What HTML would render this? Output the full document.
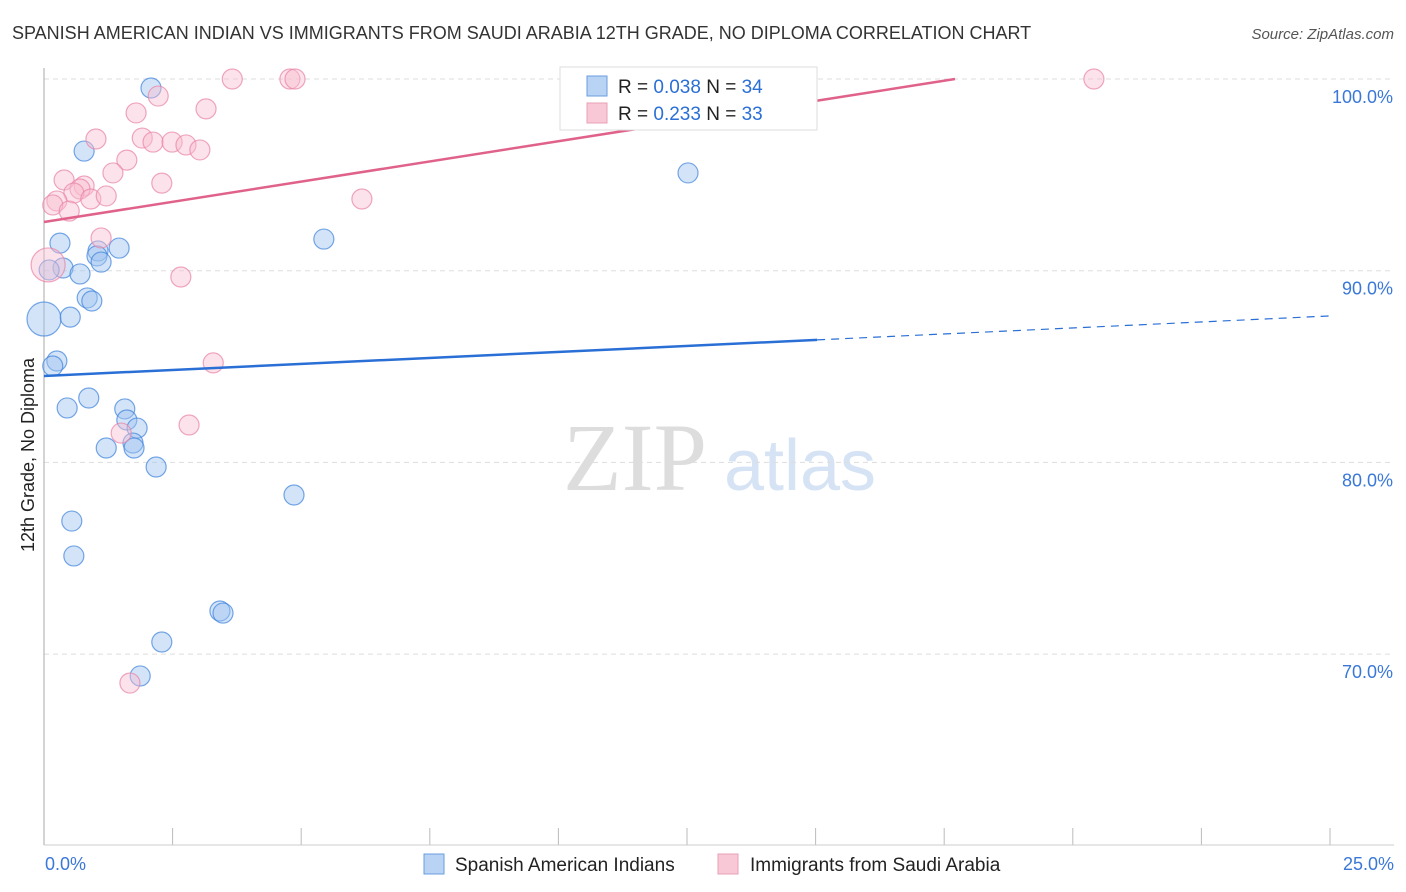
<!DOCTYPE html>
<html><head><meta charset="utf-8"><style>
body{margin:0;background:#fff;font-family:"Liberation Sans",sans-serif;}
svg{display:block}
</style></head><body>
<svg id="chart" width="1406" height="892">
<text x="12" y="39" font-size="18" fill="#333">SPANISH AMERICAN INDIAN VS IMMIGRANTS FROM SAUDI ARABIA 12TH GRADE, NO DIPLOMA CORRELATION CHART</text>
<text x="1394" y="39" font-size="15" fill="#555" text-anchor="end" font-style="italic">Source: ZipAtlas.com</text>
<text x="34" y="455" font-size="18" fill="#222" text-anchor="middle" transform="rotate(-90 34 455)">12th Grade, No Diploma</text>
<g>
<text x="635" y="490" font-size="96" fill="#ddd" font-family="Liberation Serif,serif" text-anchor="middle">ZIP</text>
<text x="800" y="490" font-size="72" fill="#d5e3f5" text-anchor="middle">atlas</text>
</g>
<g id="grid"></g><g id="ticks"></g>
<line x1="44" y1="68" x2="44" y2="845" stroke="#aaa"/>
<line x1="44" y1="845" x2="1394" y2="845" stroke="#ccc"/>
<g id="pts"></g><g id="trends"></g>
<g>
<rect x="560" y="67" width="257" height="63" fill="#fff" stroke="#ddd"/>
<rect x="587" y="76" width="20" height="20" fill="#b9d3f5" stroke="#6a9ee0"/>
<rect x="587" y="103" width="20" height="20" fill="#f9c8d6" stroke="#e8a0b6"/>
<text x="618" y="93" font-size="19" fill="#222">R = <tspan fill="#2a6fd6">0.038</tspan>    N = <tspan fill="#2a6fd6">34</tspan></text>
<text x="618" y="120" font-size="19" fill="#222">R =  <tspan fill="#2a6fd6">0.233</tspan>    N = <tspan fill="#2a6fd6">33</tspan></text>
</g>
<g>
<rect x="424" y="854" width="20" height="20" fill="#b9d3f5" stroke="#6a9ee0"/>
<text x="455" y="871" font-size="19" fill="#222">Spanish American Indians</text>
<rect x="718" y="854" width="20" height="20" fill="#f9c8d6" stroke="#e8a0b6"/>
<text x="750" y="871" font-size="19" fill="#222">Immigrants from Saudi Arabia</text>
</g>
<text x="45" y="870" font-size="18" fill="#3a78d8">0.0%</text>
<text x="1394" y="870" font-size="18" fill="#3a78d8" text-anchor="end">25.0%</text>
</svg>
<script>
const yTicks=[100,90,80,70];
const yTickLabels=["100.0%","90.0%","80.0%","70.0%"];
const xTicks=[0,2.5,5,7.5,10,12.5,15,17.5,20,22.5,25];
const blueX=[2.08,0.78,12.52,5.44,0.31,1.46,1.05,1.03,1.11,0.37,0.70,0.10,0.84,0.93,0.0,0.51,0.25,0.17,0.87,0.45,1.57,1.61,1.81,1.21,1.73,1.75,2.18,4.86,0.54,0.58,3.42,3.48,2.29,1.87];
const blueY=[99.53,96.24,95.10,91.65,91.44,91.18,91.03,90.77,90.45,90.14,89.83,90.04,88.58,88.42,87.48,87.58,85.29,85.03,83.36,82.84,82.79,82.21,81.79,80.75,81.01,80.75,79.76,78.30,76.94,75.12,72.25,72.14,70.63,68.86];
const blueR=[10,10,10,10,10,10,10,10,10,10,10,10,10,10,17,10,10,10,10,10,10,10,10,10,10,10,10,10,10,10,10,10,10,10];
const pinkX=[3.66,4.78,4.88,20.41,2.22,1.79,3.15,1.01,1.91,2.12,2.49,2.76,3.03,1.61,1.34,0.39,2.29,0.78,0.70,0.58,0.91,1.21,6.18,0.25,0.17,0.49,1.11,2.66,0.08,3.29,1.50,2.82,1.67];
const pinkY=[100,100,100,100,99.11,98.23,98.44,96.87,96.92,96.71,96.71,96.56,96.30,95.77,95.10,94.73,94.57,94.42,94.26,94.05,93.74,93.90,93.74,93.64,93.43,93.11,91.71,89.67,90.30,85.19,81.53,81.95,68.49];
const pinkR=[10,10,10,10,10,10,10,10,10,10,10,10,10,10,10,10,10,10,10,10,10,10,10,10,10,10,10,10,17,10,10,10,10];
const blueTrend=[84.51,87.64]; // value at x=0 and x=25
const blueSolidEnd=15.03;
const pinkTrend=[92.54,100]; // value at x=0 and at x=pinkEnd
const pinkEnd=17.71;
const sx=v=>44+v/25*1286;
const sy=v=>79+(100-v)*19.17;
const NS="http://www.w3.org/2000/svg";
function mk(parent,tag,attrs){const e=document.createElementNS(NS,tag);for(const k in attrs)e.setAttribute(k,attrs[k]);document.getElementById(parent).appendChild(e);return e;}
yTicks.forEach((t,i)=>{
 const l=mk('grid','line',{x1:44,x2:1394,y1:sy(t),y2:sy(t),stroke:'#ddd','stroke-dasharray':'5,4'});
 
 
 const tx=mk('grid','text',{x:1393,y:sy(t)+24,'font-size':18,fill:'#3a78d8','text-anchor':'end'});
 tx.textContent=yTickLabels[i];
 
 
});
xTicks.forEach(t=>{
 const l=mk('ticks','line',{x1:sx(t),x2:sx(t),y1:828,y2:845,stroke:'#bbb'});
 
 
});
function drawPts(X,Y,R,fill,stroke,name){
 X.forEach((x,i)=>{
  const c=mk('pts','circle',{cx:sx(x),cy:sy(Y[i]),r:R[i],fill:fill,stroke:stroke,'stroke-width':1.2});
  
  
 });
}
drawPts(blueX,blueY,blueR,'rgba(160,196,240,0.45)','rgba(60,130,220,0.7)','point-spanish-american-indian');
drawPts(pinkX,pinkY,pinkR,'rgba(248,190,208,0.45)','rgba(232,130,165,0.7)','point-immigrant-saudi-arabia');
const bAt=x=>blueTrend[0]+(blueTrend[1]-blueTrend[0])*x/25;
let t1=mk('trends','line',{x1:sx(0),y1:sy(bAt(0)),x2:sx(blueSolidEnd),y2:sy(bAt(blueSolidEnd)),stroke:'#2a6fd6','stroke-width':2.5});


let t2=mk('trends','line',{x1:sx(blueSolidEnd),y1:sy(bAt(blueSolidEnd)),x2:sx(25),y2:sy(bAt(25)),stroke:'#2a6fd6','stroke-width':1.2,'stroke-dasharray':'8,6'});


let t3=mk('trends','line',{x1:sx(0),y1:sy(pinkTrend[0]),x2:sx(pinkEnd),y2:sy(pinkTrend[1]),stroke:'#e0628a','stroke-width':2.5});


</script>
</body></html>
